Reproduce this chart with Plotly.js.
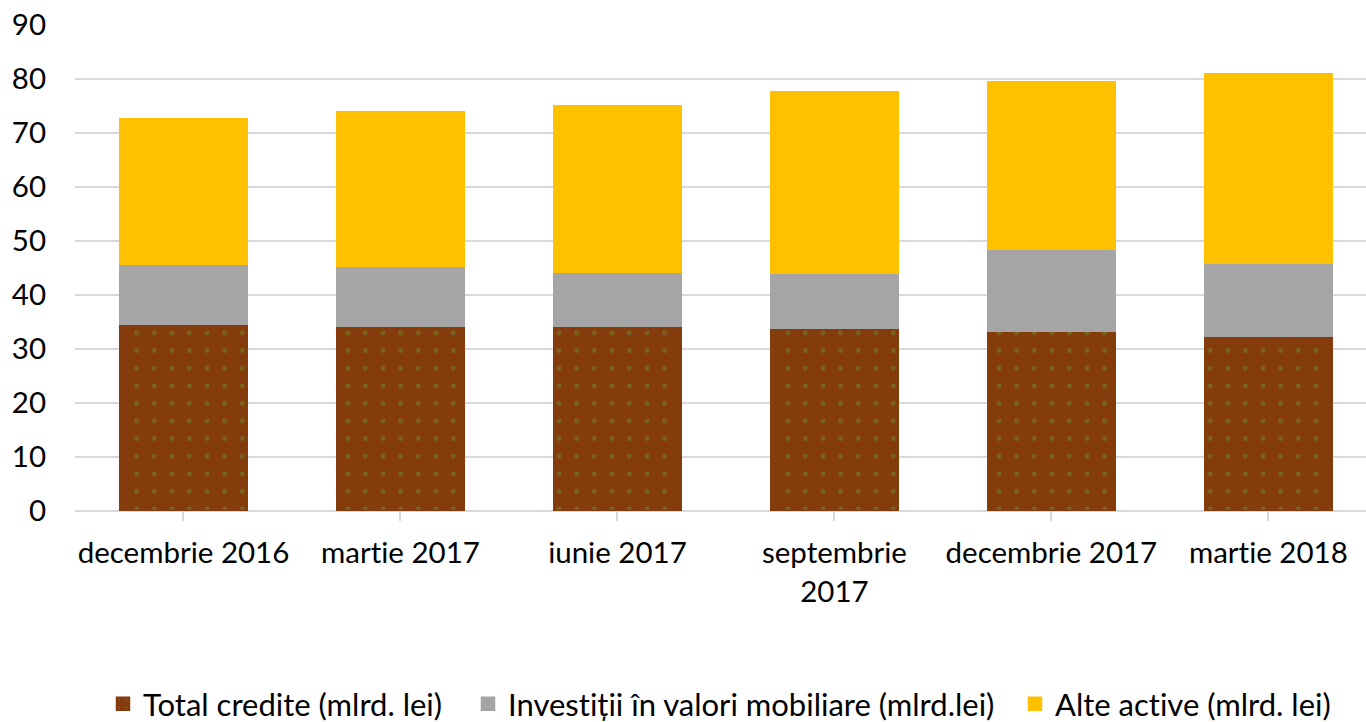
<!DOCTYPE html>
<html>
<head>
<meta charset="utf-8">
<script src="https://cdn.plot.ly/plotly-3.0.1.min.js"></script>
<style>html,body{margin:0;padding:0;background:#fff;}#chart{width:1366px;height:722px;}
#chart text{font-variant-ligatures:none;font-feature-settings:"liga" 0,"clig" 0;}</style>
</head>
<body>
<div id="chart"></div>
<script>
const categories = ["decembrie 2016", "martie 2017", "iunie 2017", "septembrie<br>2017", "decembrie 2017", "martie 2018"];
const totalCredite = [34.6, 34.3, 34.3, 33.9, 33.4, 32.4];
const investitii = [11.1, 11.1, 10.0, 10.2, 15.1, 13.6];
const alteActive = [26.9, 28.5, 30.7, 33.5, 30.9, 34.8];
const seriesNames = ["Total credite (mlrd. lei)", "Investiții în valori mobiliare (mlrd.lei)", "Alte active (mlrd. lei)"];
const yTicks = [0, 10, 20, 30, 40, 50, 60, 70, 80, 90];

const FONT = "Lato, 'Open Sans', sans-serif";
const legFont = {family: FONT, size: 31, color: "#000"};
function leg(xPx) {
  return {orientation: "h", xref: "container", yref: "container", x: xPx / 1366, xanchor: "left",
          y: 18 / 722, yanchor: "middle", font: legFont, bgcolor: "rgba(0,0,0,0)", borderwidth: 0};
}

const traces = [
  {type: "bar", name: seriesNames[0], x: categories, y: totalCredite, legend: "legend",
   marker: {color: "#843C0C", line: {width: 2.5, color: "#843C0C"},
            pattern: {shape: ".", fgcolor: "#6E8B2E", bgcolor: "#843C0C", size: 17.6, solidity: 0.06, fillmode: "overlay"}}},
  {type: "bar", name: seriesNames[1], x: categories, y: investitii, legend: "legend2",
   marker: {color: "#A5A5A5", line: {width: 2.5, color: "#A5A5A5"}}},
  {type: "bar", name: seriesNames[2], x: categories, y: alteActive, legend: "legend3",
   marker: {color: "#FFC000", line: {width: 2.5, color: "#FFC000"}}}
];

const layout = {
  width: 1366, height: 722,
  margin: {l: 75, r: 0, t: 25, b: 211},
  paper_bgcolor: "#fff", plot_bgcolor: "#fff",
  barmode: "stack",
  bargap: 0.417,
  font: {family: FONT, size: 29.5, color: "#000"},
  showlegend: true,
  legend: leg(103),
  legend2: leg(468),
  legend3: leg(1015),
  xaxis: {
    type: "category", range: [-0.5, 5.45],
    showgrid: false, zeroline: false, showline: false,
    ticks: "outside", ticklen: 9, tickcolor: "#D9D9D9", tickwidth: 2,
    ticklabelstandoff: 7,
    tickfont: {family: FONT, size: 29.5, color: "#000"}
  },
  yaxis: {
    range: [0, 90], tickvals: yTicks, ticktext: yTicks.map(String),
    showgrid: true, gridcolor: "#D9D9D9", gridwidth: 2,
    zeroline: true, zerolinecolor: "#D9D9D9", zerolinewidth: 2,
    showline: false, ticks: "", ticklabelstandoff: 28,
    tickfont: {family: FONT, size: 29.5, color: "#000"}
  }
};

Plotly.newPlot("chart", traces, layout, {displayModeBar: false, responsive: false});
</script>
</body>
</html>
